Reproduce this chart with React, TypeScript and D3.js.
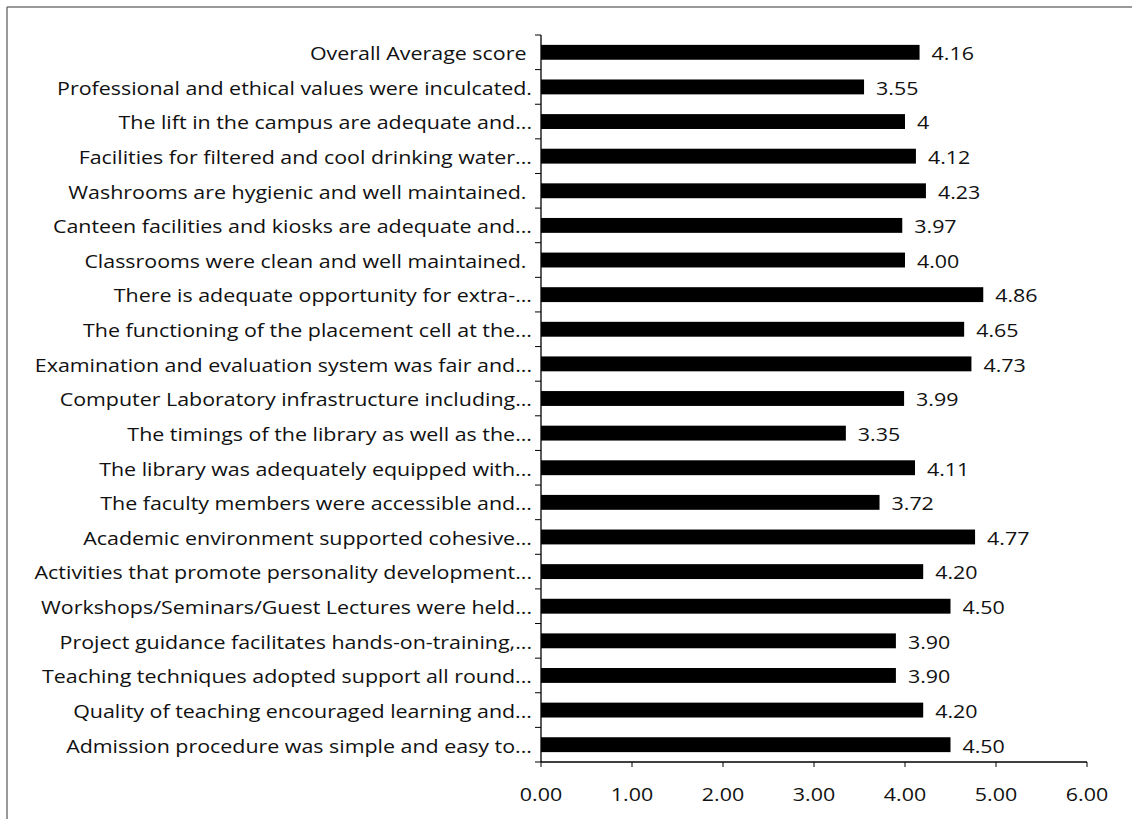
import React from "react";
import * as d3 from "d3";

const categories: string[] = [
  "Overall Average score ",
  "Professional and ethical values were inculcated.",
  "The lift in the campus are adequate and...",
  "Facilities for filtered and cool drinking water...",
  "Washrooms are hygienic and well maintained. ",
  "Canteen facilities and kiosks are adequate and...",
  "Classrooms were clean and well maintained. ",
  "There is adequate opportunity for extra-...",
  "The functioning of the placement cell at the...",
  "Examination and evaluation system was fair and...",
  "Computer Laboratory infrastructure including...",
  "The timings of the library as well as the...",
  "The library was adequately equipped with...",
  "The faculty members were accessible and...",
  "Academic environment supported cohesive...",
  "Activities that promote personality development...",
  "Workshops/Seminars/Guest Lectures were held...",
  "Project guidance facilitates hands-on-training,...",
  "Teaching techniques adopted support all round...",
  "Quality of teaching encouraged learning and...",
  "Admission procedure was simple and easy to...",
];

const values: number[] = [
  4.16, 3.55, 4, 4.12, 4.23, 3.97, 4.0, 4.86, 4.65, 4.73, 3.99, 3.35, 4.11,
  3.72, 4.77, 4.2, 4.5, 3.9, 3.9, 4.2, 4.5,
];

const valueLabels: string[] = [
  "4.16", "3.55", "4", "4.12", "4.23", "3.97", "4.00", "4.86", "4.65", "4.73",
  "3.99", "3.35", "4.11", "3.72", "4.77", "4.20", "4.50", "3.90", "3.90",
  "4.20", "4.50",
];

const xTicks: number[] = [0, 1, 2, 3, 4, 5, 6];

export default function App() {
  const W = 1132;
  const H = 819;
  const x0 = 541;
  const x1 = 1087;
  const yTop = 35;
  const yBot = 762;
  const font = "'Open Sans', Lato, sans-serif";
  const fs = 18;
  const sx = 1.19;

  const x = d3.scaleLinear().domain([0, 6]).range([x0, x1]);
  const y = d3
    .scaleBand<string>()
    .domain(categories)
    .range([yTop, yBot])
    .paddingInner(0.57)
    .paddingOuter(0.285);
  const boundaries = d3
    .range(categories.length + 1)
    .map((i) => yTop + i * ((yBot - yTop) / categories.length));

  return (
    <svg
      width={W}
      height={H}
      style={{ position: "absolute", left: 0, top: 0, background: "#fff" }}
    >
      {/* frame */}
      <line x1={7} y1={7} x2={W} y2={7} stroke="#777" strokeWidth={1.5} />
      <line x1={7} y1={7} x2={7} y2={H} stroke="#555" strokeWidth={1.2} />

      {/* bars */}
      {categories.map((c, i) => (
        <rect
          key={"b" + i}
          x={x(0)}
          y={y(c)!}
          width={x(values[i]) - x(0)}
          height={y.bandwidth()}
          fill="#000"
        />
      ))}

      {/* value labels */}
      {categories.map((c, i) => (
        <text
          key={"v" + i}
          transform={`translate(${x(values[i]) + 12},${y(c)! + y.bandwidth() / 2 + 1}) scale(${sx},1)`}
          dominantBaseline="central"
          fontFamily={font}
          fontSize={fs}
          fill="#111"
        >
          {valueLabels[i]}
        </text>
      ))}

      {/* y axis */}
      <line x1={x0} y1={yTop} x2={x0} y2={yBot} stroke="#000" strokeWidth={1.3} />
      {boundaries.map((b, i) => (
        <line key={"yt" + i} x1={x0 - 6} y1={b} x2={x0} y2={b} stroke="#000" strokeWidth={1} />
      ))}

      {/* category labels */}
      {categories.map((c, i) => (
        <text
          key={"c" + i}
          transform={`translate(${x0 - 9},${y(c)! + y.bandwidth() / 2 + 1}) scale(${sx},1)`}
          textAnchor="end"
          dominantBaseline="central"
          fontFamily={font}
          fontSize={fs}
          fill="#111"
          style={{ whiteSpace: "pre" }}
        >
          {c}
        </text>
      ))}

      {/* x axis */}
      <line x1={x0} y1={yBot} x2={x1} y2={yBot} stroke="#000" strokeWidth={1.3} />
      {xTicks.map((t) => (
        <g key={"xt" + t}>
          <line x1={x(t)} y1={yBot} x2={x(t)} y2={yBot + 5} stroke="#000" strokeWidth={1} />
          <text
            transform={`translate(${x(t)},${yBot + 39}) scale(${sx},1)`}
            textAnchor="middle"
            fontFamily={font}
            fontSize={fs}
            fill="#111"
          >
            {d3.format(".2f")(t)}
          </text>
        </g>
      ))}
    </svg>
  );
}
